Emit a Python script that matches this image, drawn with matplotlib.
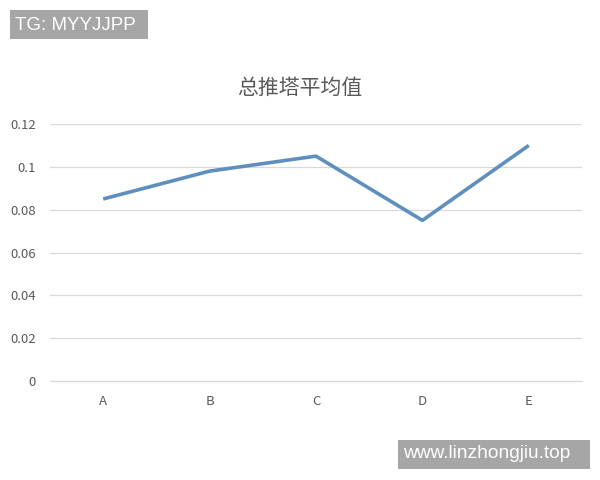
import matplotlib
matplotlib.use("Agg")
import matplotlib.pyplot as plt

plt.rcParams['font.family'] = ['Noto Sans CJK SC', 'DejaVu Sans']

categories = ["A", "B", "C", "D", "E"]
values = [0.085, 0.098, 0.105, 0.075, 0.110]
yticks = [0, 0.02, 0.04, 0.06, 0.08, 0.1, 0.12]
ytick_labels = ["0", "0.02", "0.04", "0.06", "0.08", "0.1", "0.12"]
title = "总推塔平均值"

fig = plt.figure(figsize=(6, 4.8), dpi=100)
ax = fig.add_axes([50/600, 1-381/480, (582-50)/600, (381-124)/480])
x = list(range(len(categories)))
ax.plot(x, values, color="#5e8fbe", linewidth=2.6, solid_capstyle="butt", zorder=3)
ax.set_xlim(-0.5, len(categories)-0.5)
ax.set_ylim(0, 0.12)
ax.set_yticks(yticks)
ax.set_yticklabels(ytick_labels)
ax.set_xticks(x)
ax.set_xticklabels(categories)
ax.grid(axis="y", color="#d9d9d9", linewidth=0.9)
ax.set_axisbelow(True)
for s in ["top", "right", "left"]:
    ax.spines[s].set_visible(False)
ax.spines["bottom"].set_color("#d9d9d9")
ax.spines["bottom"].set_linewidth(0.9)
ax.tick_params(axis="both", length=0, colors="#595959", labelsize=9.5)
ax.tick_params(axis="y", pad=10)
ax.tick_params(axis="x", pad=10)
fig.text(0.5, 1-88/480, title, ha="center", va="center", fontsize=15, color="#595959")

fig.patches.append(matplotlib.patches.Rectangle((10/600, 1-39/480), 138/600, 29/480,
                   transform=fig.transFigure, facecolor="#a6a6a6", edgecolor="none"))
fig.text(15/600, 1-25/480, "TG: MYYJJPP", ha="left", va="center", fontsize=13.5, color="white",
         family="Liberation Sans")
fig.patches.append(matplotlib.patches.Rectangle((398/600, 1-469/480), 192/600, 29/480,
                   transform=fig.transFigure, facecolor="#a6a6a6", edgecolor="none"))
fig.text(403/600, 1-454/480, "www.linzhongjiu.top", ha="left", va="center", fontsize=13.8, color="white",
         family="Liberation Sans")

fig.savefig("out.png", dpi=100, facecolor="white")
